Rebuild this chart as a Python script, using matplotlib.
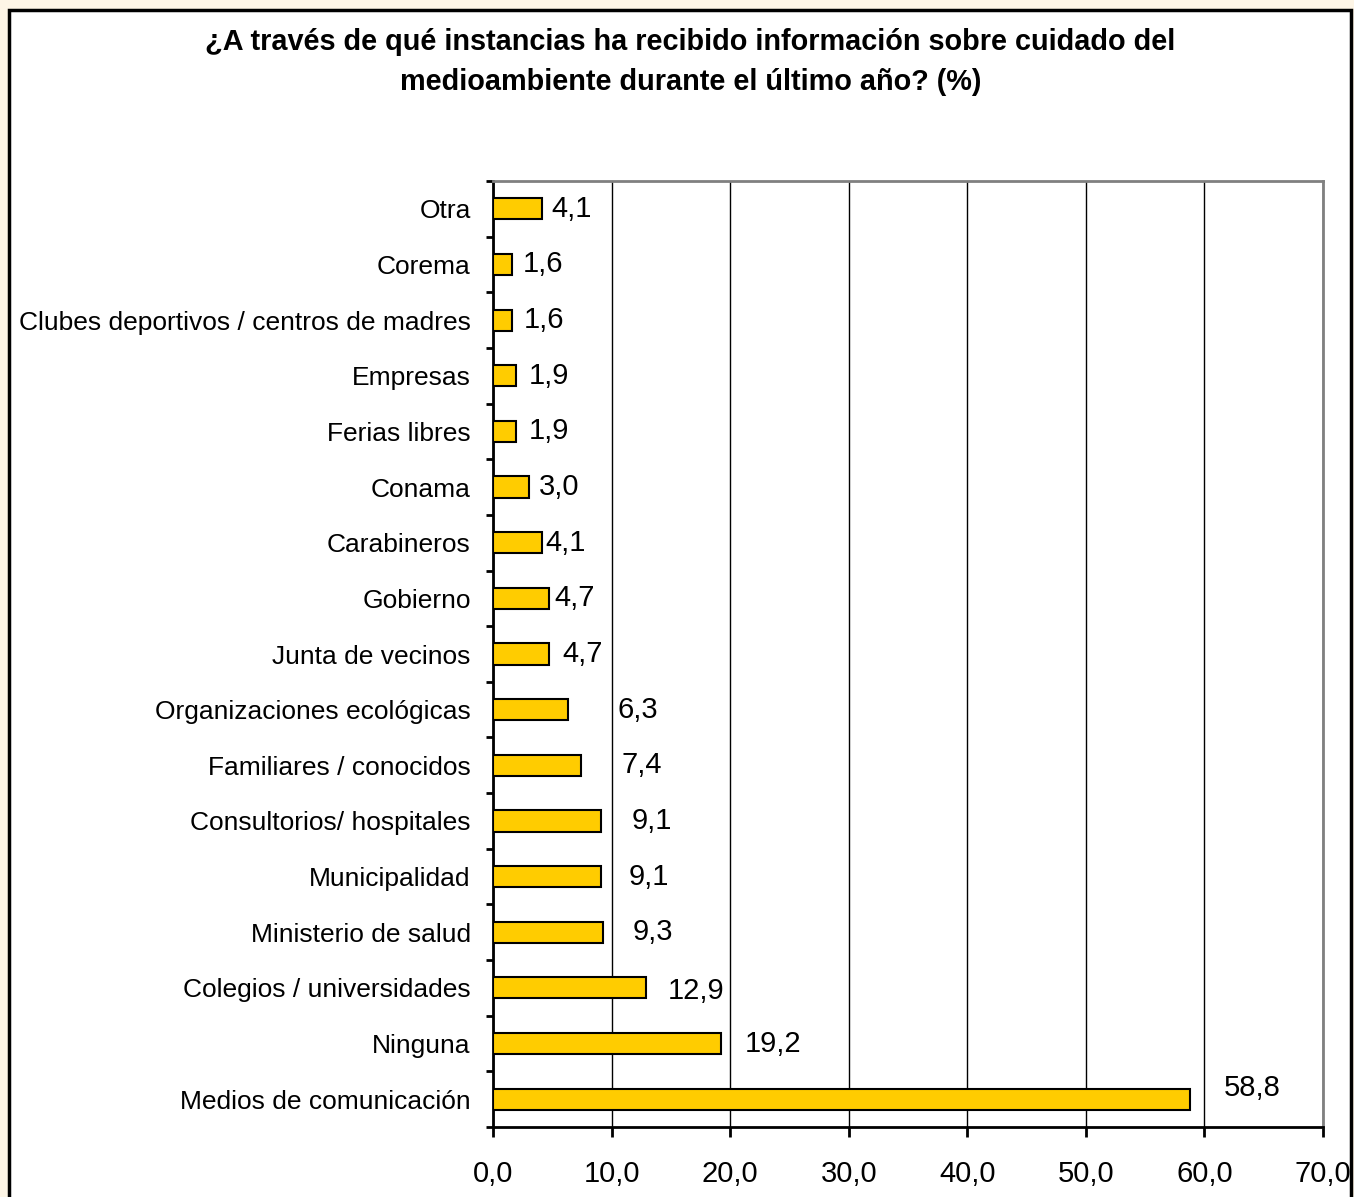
import matplotlib.pyplot as plt
from matplotlib.patches import Rectangle
from matplotlib.ticker import FuncFormatter

plt.rcParams['font.family'] = ['Liberation Sans', 'DejaVu Sans']

# categories from bottom to top
categorias = ["Medios de comunicación", "Ninguna", "Colegios / universidades",
              "Ministerio de salud", "Municipalidad", "Consultorios/ hospitales",
              "Familiares / conocidos", "Organizaciones ecológicas",
              "Junta de vecinos", "Gobierno", "Carabineros", "Conama",
              "Ferias libres", "Empresas",
              "Clubes deportivos / centros de madres", "Corema", "Otra"]
porcentajes = [58.8, 19.2, 12.9, 9.3, 9.1, 9.1, 7.4, 6.3,
               4.7, 4.7, 4.1, 3.0, 1.9, 1.9, 1.6, 1.6, 4.1]
ticks_x = [0, 10, 20, 30, 40, 50, 60, 70]

# label placement as in the original (pixels right of bar end / up)
etiq_dx = [34, 24, 22, 29, 28, 31, 41, 50, 14, 6, 4, 10, 13, 13, 12, 11, 10]
etiq_dy = [11, 0, -3, 0, 0, 0, 0, 0, 0, 0, 0, 0, 0, 0, 0, 0, 0]

titulo = ("¿A través de qué instancias ha recibido información sobre cuidado del\n"
          "medioambiente durante el último año? (%)")

fig = plt.figure(figsize=(13.54, 11.97), dpi=100)
fig.patch.set_facecolor("#fdf5e6")

# white framed panel, bottom edge runs off the image
panel = Rectangle((9 / 1354, -0.05), 1342 / 1354, 1.05 - 10 / 1197,
                  transform=fig.transFigure, facecolor="white",
                  edgecolor="black", linewidth=2.5, zorder=-10)
fig.patches.append(panel)

ax = fig.add_axes([493 / 1354, 1 - 1127 / 1197, 830 / 1354, 946 / 1197])
ax.set_facecolor("white")

pos = range(len(categorias))
ax.barh(pos, porcentajes, height=0.38, color="#ffcc00",
        edgecolor="black", linewidth=1.5, zorder=3)

for i, v in enumerate(porcentajes):
    ax.annotate(f"{v:.1f}".replace(".", ","), (v, i),
                xytext=(etiq_dx[i] * 0.72, etiq_dy[i] * 0.72),
                textcoords="offset points", va="center", ha="left",
                fontsize=21)

ax.set_xlim(0, 70)
ax.set_ylim(-0.5, len(categorias) - 0.5)
ax.set_xticks(ticks_x)
ax.xaxis.set_major_formatter(FuncFormatter(lambda x, p: f"{x:.1f}".replace(".", ",")))
ax.set_yticks(list(pos))
ax.set_yticklabels(categorias)
ax.set_yticks([p - 0.5 for p in range(len(categorias) + 1)], minor=True)

ax.grid(axis="x", color="black", linewidth=1, zorder=0)
ax.set_axisbelow(True)

ax.tick_params(axis="x", direction="out", length=7, width=2, pad=16.5, labelsize=21)
ax.tick_params(axis="y", which="major", length=0, pad=16, labelsize=19)
ax.tick_params(axis="y", which="minor", direction="out", length=5, width=2)

for side in ["left", "bottom"]:
    ax.spines[side].set_linewidth(2)
    ax.spines[side].set_color("black")
for side in ["top", "right"]:
    ax.spines[side].set_linewidth(2)
    ax.spines[side].set_color("#808080")

fig.text(0.51, 1 - 62 / 1197, titulo, ha="center", va="center",
         fontsize=20.8, fontweight="bold", linespacing=1.5)

fig.savefig("out.png", dpi=100, facecolor=fig.get_facecolor())
